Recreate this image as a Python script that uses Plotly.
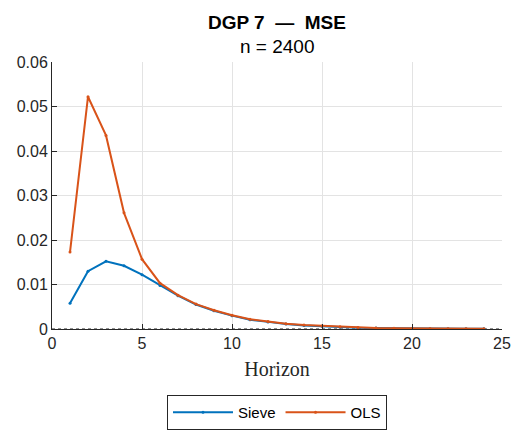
import plotly.graph_objects as go

horizon = list(range(1, 25))
sieve = [0.0058, 0.0130, 0.0152, 0.0142, 0.0122, 0.0098, 0.0075, 0.0055, 0.0041, 0.0030,
         0.0021, 0.0016, 0.0011, 0.0008, 0.0006, 0.00042, 0.00028, 0.0002, 0.00014, 0.0001,
         0.00007, 0.00005, 0.00004, 0.00003]
ols = [0.0173, 0.0522, 0.0435, 0.0261, 0.0157, 0.0103, 0.0076, 0.0056, 0.0042, 0.0031,
       0.0022, 0.0017, 0.0012, 0.0009, 0.0007, 0.0005, 0.00033, 0.00024, 0.00017, 0.00012,
       0.00008, 0.00006, 0.00005, 0.00004]
xticks = [0, 5, 10, 15, 20, 25]
yticks = [0, 0.01, 0.02, 0.03, 0.04, 0.05, 0.06]
ytick_labels = ["0", "0.01", "0.02", "0.03", "0.04", "0.05", "0.06"]

fig = go.Figure()
fig.add_trace(go.Scatter(x=horizon, y=sieve, name="Sieve", mode="lines+markers",
                         line=dict(color="#0072BD", width=2), marker=dict(size=3, color="#0072BD")))
fig.add_trace(go.Scatter(x=horizon, y=ols, name="OLS", mode="lines+markers",
                         line=dict(color="#D95319", width=2), marker=dict(size=3, color="#D95319")))
fig.add_hline(y=0, line=dict(color="#222", width=1, dash="dot"), layer="below")

font_sans = "Liberation Sans, Arial, sans-serif"
T, B = 62, 101
ph = 430 - T - B
fig.update_layout(
    width=516, height=430,
    margin=dict(l=52, r=14, t=T, b=B, autoexpand=False),
    paper_bgcolor="white", plot_bgcolor="white",
    font=dict(family=font_sans, size=16, color="#262626"),
    showlegend=True,
    legend=dict(orientation="h", x=0.5, xanchor="center", y=(329 - 395) / ph, yanchor="top",
                bordercolor="#262626", borderwidth=1, font=dict(size=15, color="#000"),
                itemwidth=60, tracegroupgap=10),
    annotations=[
        dict(text="<b>DGP 7&nbsp;&nbsp;—&nbsp;&nbsp;MSE</b>", x=0.5, xref="paper", y=(329 - 22) / ph,
             yref="paper", xanchor="center", yanchor="middle", showarrow=False,
             font=dict(size=19, color="#000")),
        dict(text="n = 2400", x=0.5, xref="paper", y=(329 - 46) / ph, yref="paper",
             xanchor="center", yanchor="middle", showarrow=False, font=dict(size=19, color="#000")),
    ],
)
fig.update_xaxes(range=[0, 25], tickvals=xticks, showgrid=True, gridcolor="#e3e3e3",
                 showline=True, linecolor="#262626", linewidth=1, ticks="inside", ticklen=5,
                 tickcolor="#262626", zeroline=False, automargin=False,
                 title=dict(text="Horizon", font=dict(family="Liberation Serif, Times New Roman, serif",
                                                      size=20, color="#262626"), standoff=10))
fig.update_yaxes(range=[0, 0.06], tickvals=yticks, ticktext=ytick_labels, showgrid=True,
                 gridcolor="#e3e3e3", showline=True, linecolor="#262626", linewidth=1,
                 ticks="inside", ticklen=5, tickcolor="#262626", zeroline=False, automargin=False)

fig.write_html("out.html")
